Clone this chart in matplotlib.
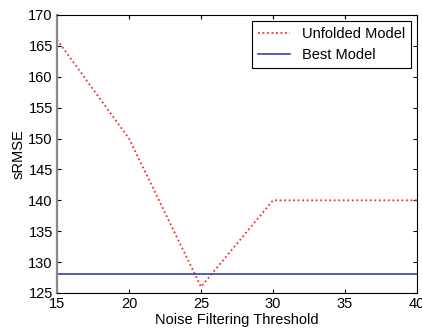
import matplotlib
matplotlib.use("Agg")
import matplotlib.pyplot as plt

plt.rcParams['font.family'] = ['Liberation Sans', 'DejaVu Sans']

# data
thresholds = [15, 20, 25, 30, 35, 40]
unfolded = [166, 150, 126, 140, 140, 140]
best_model = 128

fig = plt.figure(figsize=(4.22, 3.32), dpi=100)
ax = fig.add_axes([57 / 422, 1 - 293 / 332, 360 / 422, 278 / 332])

ax.plot(thresholds, unfolded, color='#ff2a2a', linestyle=(0, (1, 1.5)), linewidth=1.3, label='Unfolded Model')
ax.axhline(best_model, color='#3344aa', linewidth=1.2, label='Best Model')

ax.set_xlim(15, 40)
ax.set_ylim(125, 170)
ax.set_xticks(range(15, 41, 5))
ax.set_yticks(range(125, 171, 5))
ax.tick_params(direction='in', top=True, right=True, labelsize=10.5, length=3, pad=3)
ax.spines['left'].set_color('#888888')
ax.spines['left'].set_linewidth(1.6)

ax.set_xlabel('Noise Filtering Threshold', fontsize=10.5, labelpad=1)
ax.set_ylabel('sRMSE', fontsize=10.5, labelpad=2)

leg = ax.legend(loc='upper right', fontsize=10.5, fancybox=False, framealpha=1,
                edgecolor='black', borderaxespad=0.4, handlelength=2.2)
leg.get_frame().set_linewidth(0.8)

fig.savefig('out.png', dpi=100)
